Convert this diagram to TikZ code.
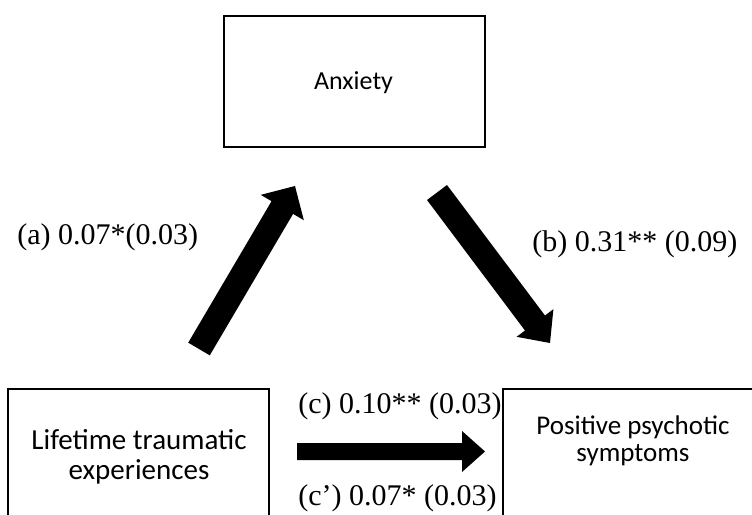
\documentclass[tikz,border=0pt]{standalone}
\usepackage{fontspec}
\setmainfont{Liberation Serif}
\newfontfamily\calibfont{Carlito}
\usetikzlibrary{calc}
\newcommand\blockarr[5]{% tail, tip, half shaft width, head length, half head width
  \coordinate (#1-base) at ($(#2)!#4!(#1)$);
  \fill[arrowfill] ($(#1)!#3!90:(#2)$) -- ($(#1-base)!#3!90:(#2)$) -- ($(#1-base)!#5!90:(#2)$) -- (#2)
    -- ($(#1-base)!#5!-90:(#2)$) -- ($(#1-base)!#3!-90:(#2)$) -- ($(#1)!#3!-90:(#2)$) -- cycle;
}
\begin{document}
\begin{tikzpicture}[x=0.5pt,y=-0.5pt,
  box/.style={draw, line width=0.75pt, inner sep=0pt, minimum width=130.5pt, minimum height=65.5pt},
  boxtext/.style={align=center, inner sep=0pt},
  lab/.style={font=\fontsize{15}{18}\selectfont, inner sep=0pt, anchor=base west},
  arrowfill/.style={fill=black},
]
\useasboundingbox (0,0) rectangle (752,515);
\clip (0,0) rectangle (752,515);
\fill[white] (0,0) rectangle (752,515);

\node[box] (anx) at (354.5,81.5) {};
\node[box] (lte) at (138.5,454.5) {};
\node[box] (pps) at (633.5,454.5) {};

\node[boxtext, font=\calibfont\fontsize{13}{16}\selectfont, anchor=base] (anxt) at (353.5,89) {Anxiety};
\node[boxtext, font=\calibfont\fontsize{14.5}{15}\selectfont] (ltet) at (139,456.7) {Lifetime traumatic\\experiences};
\node[boxtext, font=\calibfont\fontsize{13.5}{13.5}\selectfont] (ppst) at (633,440.5) {Positive psychotic\\symptoms};

\coordinate (a1) at (199,349);
\coordinate (a2) at (295,186);
\coordinate (b1) at (437,192.5);
\coordinate (b2) at (550,343);
\coordinate (c1) at (297,451.5);
\coordinate (c2) at (485,451.5);
\blockarr{a1}{a2}{6.25pt}{12.5pt}{12.5pt}
\blockarr{b1}{b2}{6.25pt}{12.5pt}{11.5pt}
\blockarr{c1}{c2}{4.25pt}{11.5pt}{10.25pt}

\node[lab] (la) at (17,244) {(a) 0.07*(0.03)};
\node[lab] (lb) at (532,251) {(b) 0.31** (0.09)};
\node[lab] (lc) at (298,413) {(c) 0.10** (0.03)};
\node[lab] (lcp) at (298,505) {(c’) 0.07* (0.03)};
\end{tikzpicture}
\end{document}
